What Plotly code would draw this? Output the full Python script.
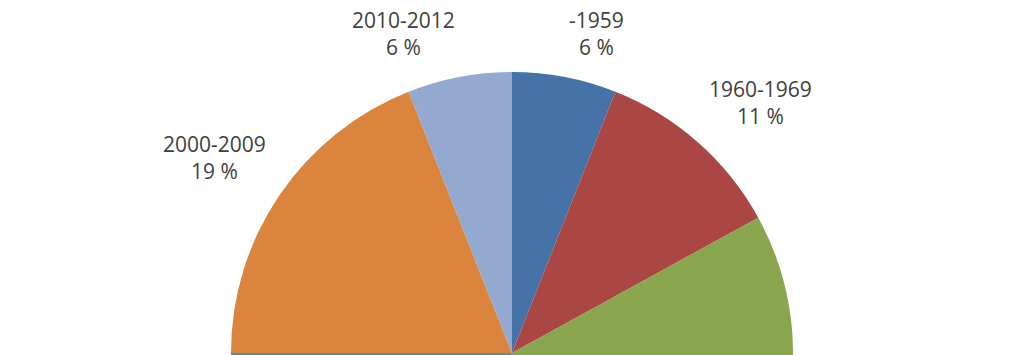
import math
import plotly.graph_objects as go

# ---- data ----
categories = ["-1959", "1960-1969", "1970-1979", "1980-1989", "1990-1999", "2000-2009", "2010-2012"]
shares = [6, 11, 21, 19, 18, 19, 6]
colors = ["#4572A7", "#AA4643", "#89A54E", "#80699B", "#3D96AE", "#DB843D", "#93A9CF"]

# ---- layout geometry (pixels) ----
W, H = 1023, 706
CX, CY = 512, 353      # pie centre (from left / from top)
R = 281                # pie radius
GAP = 14               # distance from rim to nearest label corner

fig = go.Figure(go.Pie(
    labels=categories,
    values=shares,
    sort=False,
    direction="clockwise",
    rotation=0,
    textinfo="none",
    hoverinfo="label+value",
    marker=dict(colors=colors, line=dict(width=0)),
    domain=dict(x=[(CX - R) / W, (CX + R) / W],
                y=[(H - CY - R) / H, (H - CY + R) / H]),
    showlegend=False,
))

total = sum(shares)
cum = 0
for lab, v in zip(categories, shares):
    mid = (cum + v / 2) / total * 2 * math.pi
    cum += v
    s, c = math.sin(mid), math.cos(mid)
    px = CX + (R + GAP) * s
    py_from_bottom = (H - CY) + (R + GAP) * c
    fig.add_annotation(
        x=px / W, y=py_from_bottom / H, xref="paper", yref="paper",
        text=f"{lab}<br>{v} %",
        showarrow=False,
        xanchor="left" if s > 0.05 else ("right" if s < -0.05 else "center"),
        yanchor="bottom" if c > 0 else "top",
        align="center",
        font=dict(family="Open Sans", size=21, color="#404040"),
    )

fig.update_layout(
    width=W, height=H,
    margin=dict(l=0, r=0, t=0, b=0),
    paper_bgcolor="white",
    plot_bgcolor="white",
)

fig.write_html("out.html")
